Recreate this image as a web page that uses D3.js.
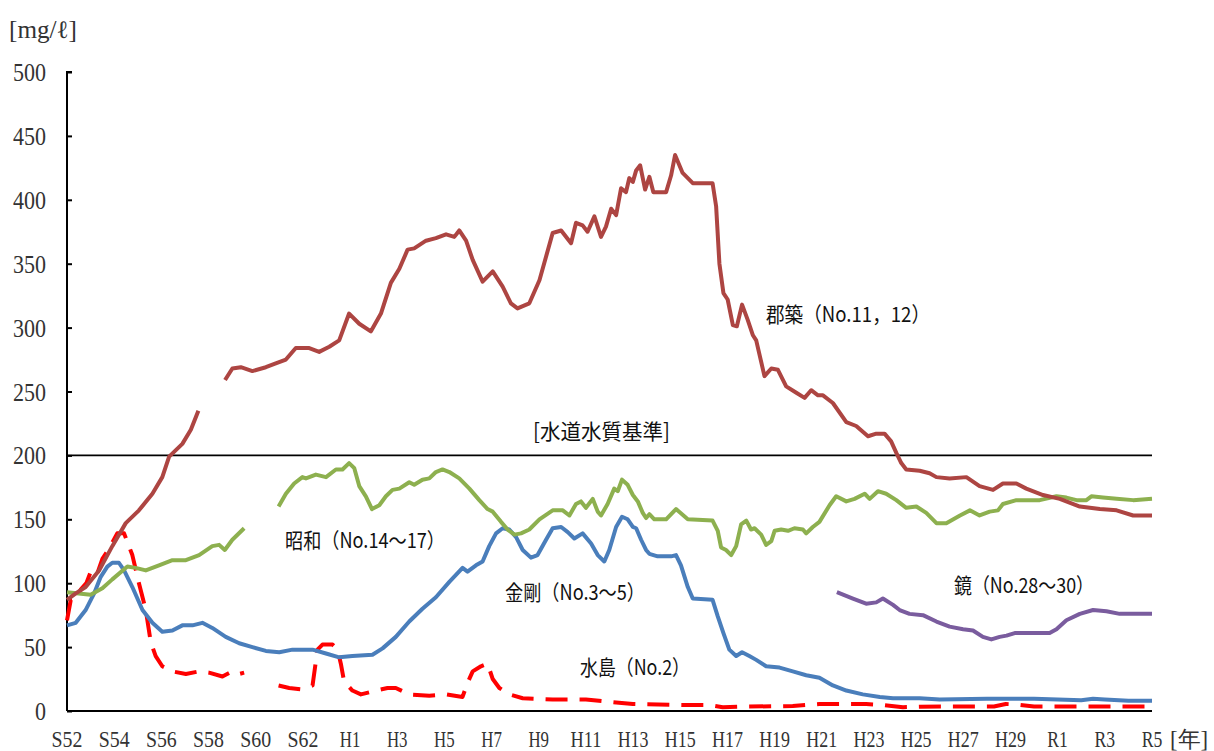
<!DOCTYPE html>
<html>
<head>
<meta charset="utf-8">
<script src="https://cdn.jsdelivr.net/npm/d3@7"></script>
<style>
  body { margin: 0; background: #fff; }
  svg { display: block; }
  .serif { font-family: "Liberation Serif", "DejaVu Serif", serif; }
  .gothic { font-family: "Noto Sans CJK JP", sans-serif; }
</style>
</head>
<body>
<div id="chart"></div>
<script>
// years counted from S52 (1977); null = no data
const xTickLabels = ["S52","S54","S56","S58","S60","S62","H1","H3","H5","H7","H9","H11","H13","H15","H17","H19","H21","H23","H25","H27","H29","R1","R3","R5"];
const yTicks = [0, 50, 100, 150, 200, 250, 300, 350, 400, 450, 500];
const standard = 200; // 水道水質基準

// 郡築 (No.11, 12)
const kouchiku = [
  [0,87],[0.37,92],[0.79,97],[1.36,110],[1.92,129],[2.49,147],[3.05,157],[3.62,170],[4.04,183],[4.33,199],
  [4.89,209],[5.25,220],[5.57,235],[5.9,null],
  [6.7,259],[7.01,268],[7.37,269],[7.86,266],[8.43,269],[8.85,272],[9.28,275],[9.7,284],[10.27,284],[10.69,281],
  [11.12,285],[11.54,290],[11.96,311],[12.39,303],[12.88,297],[13.31,311],[13.73,335],[14.09,346],[14.44,361],
  [14.72,362],[15.22,368],[15.64,370],[16.07,373],[16.42,371],[16.63,376],[16.92,368],[17.2,353],[17.62,336],
  [18.05,344],[18.47,332],[18.82,319],[19.1,315],[19.6,319],[20.03,337],[20.59,374],[20.95,376],[21.37,366],
  [21.58,382],[21.86,380],[22.07,375],[22.36,387],[22.64,371],[22.85,379],[23.07,393],[23.28,388],[23.49,409],
  [23.7,406],[23.84,417],[23.99,414],[24.13,423],[24.3,427],[24.51,408],[24.69,418],[24.86,406],[25.4,406],
  [25.61,419],[25.78,435],[26.1,421],[26.53,413],[27.37,413],[27.52,395],[27.66,350],[27.83,327],[28.01,322],
  [28.23,302],[28.4,301],[28.62,318],[28.86,306],[29.08,294],[29.22,290],[29.57,262],[29.86,268],[30.14,267],
  [30.49,254],[30.92,249],[31.27,245],[31.55,251],[31.84,247],[32.05,247],[32.47,241],[33.04,226],[33.46,223],
  [33.96,215],[34.31,217],[34.66,217],[34.94,211],[35.16,202],[35.37,194],[35.58,189],[36.15,188],[36.57,186],
  [36.86,183],[37.42,182],[38.13,183],[38.69,176],[39.26,173],[39.68,178],[40.25,178],[40.67,174],[41.38,169],
  [42.09,166],[42.94,160],[43.79,158],[44.5,157],[45.2,153],[46,153]
];

// 昭和 (No.14～17)
const showa = [
  [0,93],[0.5,92],[1.0,91],[1.5,96],[1.92,103],[2.56,113],[2.91,112],[3.34,110],[3.9,114],[4.47,118],[5.04,118],
  [5.6,122],[6.16,129],[6.45,130],[6.69,126],[7.01,134],[7.51,143],[8.2,null],
  [8.97,160],[9.28,170],[9.63,178],[9.98,183],[10.13,182],[10.55,185],[10.98,183],[11.4,189],[11.68,189],
  [11.96,194],[12.18,190],[12.39,176],[12.67,168],[12.93,158],[13.24,161],[13.52,168],[13.8,173],[14.09,174],
  [14.51,179],[14.72,177],[15.07,181],[15.36,182],[15.64,187],[15.92,189],[16.21,187],[16.63,182],[17.06,174],
  [17.48,165],[17.83,158],[18.05,156],[18.4,148],[18.68,142],[18.97,138],[19.25,139],[19.6,142],[20.03,150],
  [20.59,157],[21.02,157],[21.3,153],[21.58,162],[21.79,164],[22.0,159],[22.29,166],[22.5,156],[22.64,153],
  [22.92,162],[23.2,174],[23.35,172],[23.53,181],[23.77,177],[23.99,169],[24.2,164],[24.41,155],[24.55,151],
  [24.69,154],[24.9,150],[25.4,150],[25.82,158],[26.32,150],[27.37,149],[27.59,141],[27.73,128],[27.94,126],
  [28.16,122],[28.37,129],[28.58,146],[28.8,149],[29.0,142],[29.15,143],[29.43,138],[29.64,130],[29.86,133],
  [30.0,141],[30.28,142],[30.57,141],[30.84,143],[31.2,142],[31.34,139],[31.62,144],[31.9,148],[32.33,161],
  [32.61,168],[33.04,164],[33.39,166],[33.82,170],[34.03,166],[34.38,172],[34.73,170],[35.16,165],[35.58,159],
  [36.01,160],[36.43,155],[36.86,147],[37.28,147],[37.86,153],[38.28,157],[38.69,153],[39.12,156],[39.47,157],
  [39.68,162],[40.25,165],[40.82,165],[41.24,165],[41.95,168],[42.37,167],[42.8,165],[43.22,165],[43.43,168],
  [43.92,167],[44.5,166],[45.2,165],[46,166]
];

// 金剛 (No.3～5)
const kongo = [
  [0,67],[0.37,69],[0.79,79],[1.15,92],[1.43,105],[1.71,113],[1.92,116],[2.2,116],[2.42,110],[2.77,97],[3.2,79],
  [3.62,69],[4.04,62],[4.47,63],[4.89,67],[5.32,67],[5.74,69],[6.16,65],[6.73,58],[7.3,53],[7.86,50],[8.43,47],
  [9.0,46],[9.56,48],[10.13,48],[10.41,48],[10.98,45],[11.54,42],[12.1,43],[12.95,44],[13.38,49],[13.94,58],
  [14.51,70],[15.07,80],[15.64,89],[16.21,101],[16.77,112],[16.98,109],[17.34,114],[17.62,117],[17.9,129],
  [18.19,139],[18.47,143],[18.75,142],[19.04,136],[19.32,126],[19.67,120],[19.95,122],[20.31,134],[20.59,143],
  [20.95,144],[21.23,140],[21.51,135],[21.86,139],[22.22,131],[22.5,122],[22.78,117],[22.99,126],[23.28,144],
  [23.53,152],[23.77,150],[23.99,144],[24.13,143],[24.34,134],[24.55,126],[24.69,123],[25.04,121],[25.61,121],
  [25.82,122],[26.03,114],[26.32,97],[26.53,88],[27.37,87],[27.59,74],[27.83,61],[28.08,48],[28.37,43],
  [28.62,46],[28.93,43],[29.22,40],[29.64,35],[30.21,34],[30.77,31],[31.34,28],[31.9,26],[32.47,20],[33.04,16],
  [33.74,13],[34.46,11],[35.02,10],[36.15,10],[37.0,9],[39.0,9.5],[41.0,9.5],[42.0,9],[43.0,8.5],[43.5,9.5],
  [44.0,9],[45.0,8],[46,8]
];

// 鏡 (No.28～30)
const kagami = [
  [32.64,93],[33.32,88],[33.88,84],[34.31,85],[34.59,88],[35.02,83],[35.3,79],[35.72,76],[36.29,75],[36.86,70],
  [37.42,66],[37.99,64],[38.41,63],[38.83,58],[39.19,56],[39.54,58],[39.83,59],[40.18,61],[40.96,61],[41.66,61],
  [41.95,64],[42.37,71],[42.94,76],[43.5,79],[44.07,78],[44.63,76],[46,76]
];

// 水島 (No.2)
const mizushima = [
  [0,71],[0.16,87],[0.37,87],[0.58,95],[0.82,100],[1.05,111],[1.29,108],[1.5,119],[1.71,125],[1.9,131],
  [2.13,139],[2.42,139],[2.77,122],[3.05,100],[3.34,79],[3.55,54],[3.76,43],[4.04,35],[4.47,31],[5.04,29],
  [5.6,31],[6.02,30],[6.59,27],[7.01,31],[7.3,29],[7.51,30],[8.2,null],
  [8.97,20],[9.42,18],[9.92,17],[10.41,20],[10.62,48],[10.83,52],[11.26,52],[11.47,48],[11.61,37],[11.75,23],
  [12.1,16],[12.46,13],[13.1,16],[13.59,18],[13.94,18],[14.51,13],[15.36,12],[16.07,13],[16.77,11],[16.98,22],
  [17.2,31],[17.55,35],[17.83,37],[18.05,25],[18.33,18],[18.75,13],[19.32,10],[20.59,9],[22.0,9],[23.13,7],
  [23.99,5.5],[26.25,4.7],[27.24,4.7],[27.8,3],[28.51,3.4],[30.77,3.9],[31.9,5.5],[33.88,5.5],[34.59,4.7],
  [35.44,3],[36.15,3.4],[39.3,3.5],[39.8,5.5],[40.3,5],[41.0,3.5],[46,3.5]
];

const seriesList = [
  { name: "mizushima", data: mizushima, color: "#ff0000", dash: "22,12" },
  { name: "kongo", data: kongo, color: "#4a7ebb" },
  { name: "kagami", data: kagami, color: "#7a5c9e" },
  { name: "showa", data: showa, color: "#8db04f" },
  { name: "kouchiku", data: kouchiku, color: "#ad4542" }
];

const labels = [
  { text: "郡築（No.11，12）", x: 766, y: 322, w: 164 },
  { text: "[水道水質基準]", x: 533, y: 439, w: 137 },
  { text: "昭和（No.14～17）", x: 285, y: 548, w: 160 },
  { text: "金剛（No.3～5）", x: 505, y: 600, w: 140 },
  { text: "水島（No.2）", x: 580, y: 675, w: 110 },
  { text: "鏡（No.28～30）", x: 954, y: 593, w: 140 }
];

const width = 1214, height = 751;

const svg = d3.select("#chart")
  .append("svg")
  .attr("width", width)
  .attr("height", height);

svg.append("rect").attr("width", width).attr("height", height).attr("fill", "#fff");

const x = d3.scaleLinear().domain([0, 46]).range([67, 1152]);
const y = d3.scaleLinear().domain([0, 500]).range([711, 72]);

// y axis, ticks pointing inward
const yAxis = svg.append("g")
  .attr("transform", `translate(${x(0)},0)`)
  .call(d3.axisRight(y).tickValues(yTicks).tickSize(5).tickFormat(""));
yAxis.select(".domain").attr("stroke", "#000").attr("stroke-width", 2).attr("d", `M5,${y(500)}H0V${y(0)}`);
yAxis.selectAll(".tick line").attr("stroke", "#000").attr("stroke-width", 2);

svg.append("g").selectAll("text")
  .data(yTicks)
  .join("text")
  .attr("class", "serif")
  .attr("x", 46)
  .attr("y", d => y(d) + 9)
  .attr("text-anchor", "end")
  .attr("font-size", 26)
  .attr("textLength", d => String(d).length * 11)
  .attr("lengthAdjust", "spacingAndGlyphs")
  .attr("fill", "#333")
  .text(d => d);

// x axis line
svg.append("line")
  .attr("x1", x(0)).attr("x2", x(46))
  .attr("y1", y(0)).attr("y2", y(0))
  .attr("stroke", "#000").attr("stroke-width", 2);

svg.append("g").selectAll("text")
  .data(xTickLabels)
  .join("text")
  .attr("class", "serif")
  .attr("x", (d, i) => x(i * 2))
  .attr("y", 747)
  .attr("text-anchor", "middle")
  .attr("font-size", 23)
  .attr("textLength", d => d.length * 10.3)
  .attr("lengthAdjust", "spacingAndGlyphs")
  .attr("fill", "#333")
  .text(d => d);

// unit labels
svg.append("text")
  .attr("class", "serif")
  .attr("x", 9).attr("y", 38)
  .attr("font-size", 25)
  .attr("textLength", 68).attr("lengthAdjust", "spacingAndGlyphs")
  .attr("fill", "#333")
  .text("[mg/ℓ]");

svg.append("text")
  .attr("class", "serif")
  .attr("x", 1170).attr("y", 747)
  .attr("font-size", 23)
  .attr("textLength", 38).attr("lengthAdjust", "spacingAndGlyphs")
  .attr("fill", "#333")
  .text("[年]");

// standard line
svg.append("line")
  .attr("x1", x(0)).attr("x2", x(46))
  .attr("y1", y(standard)).attr("y2", y(standard))
  .attr("stroke", "#000").attr("stroke-width", 1.6);

const line = d3.line()
  .defined(d => d[1] !== null)
  .x(d => x(d[0]))
  .y(d => y(d[1]));

svg.append("g").selectAll("path")
  .data(seriesList)
  .join("path")
  .attr("d", d => line(d.data))
  .attr("fill", "none")
  .attr("stroke", d => d.color)
  .attr("stroke-width", 4)
  .attr("stroke-linejoin", "round")
  .attr("stroke-dasharray", d => d.dash || null);

svg.append("g").selectAll("text")
  .data(labels)
  .join("text")
  .attr("class", "gothic")
  .attr("x", d => d.x)
  .attr("y", d => d.y)
  .attr("font-size", 21)
  .attr("textLength", d => d.w)
  .attr("lengthAdjust", "spacingAndGlyphs")
  .attr("fill", "#111")
  .text(d => d.text);
</script>
</body>
</html>
